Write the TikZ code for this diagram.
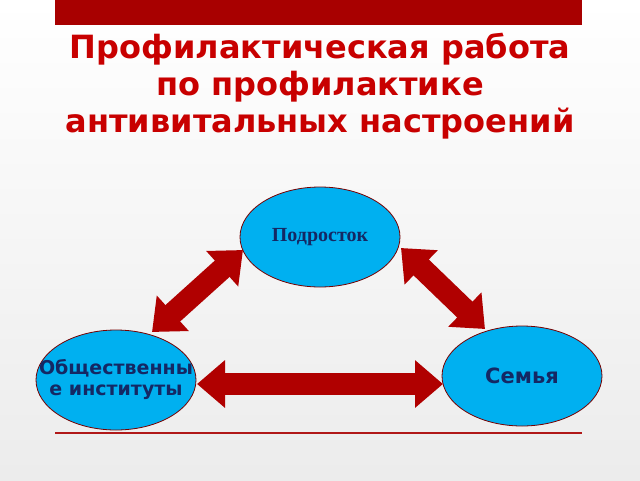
\documentclass[tikz,border=0pt]{standalone}
\usepackage{fontspec}
\setmainfont{Liberation Serif}
\setsansfont{DejaVu Sans}
\usetikzlibrary{arrows.meta,shapes.geometric}
\definecolor{barred}{RGB}{168,0,0}
\definecolor{titlered}{RGB}{200,0,0}
\definecolor{ellfill}{RGB}{0,176,240}
\definecolor{navy}{RGB}{20,40,100}
\definecolor{arr}{RGB}{176,0,0}
\tikzset{
  ell/.style={ellipse, draw=barred!70!black, line width=0.8pt, fill=ellfill, minimum width=160pt, minimum height=100pt, inner sep=0pt},
  lbl/.style={align=center, text=navy, inner sep=0pt},
  blk/.style={line width=22pt, draw=arr, {Triangle[length=28pt,width=46pt]}-{Triangle[length=28pt,width=46pt]}},
  title/.style={font=\sffamily\bfseries\fontsize{32}{37}\selectfont, text=titlered, align=center}
}
\begin{document}
\begin{tikzpicture}[x=1pt,y=-1pt]
\useasboundingbox (0,0) rectangle (640,480);
\fill[top color=white, bottom color=gray!15] (0,0) rectangle (640,480);
\fill[barred] (55,0) rectangle (582,25);
\node[title] (t) at (320,86) {Профилактическая работа\\по профилактике\\антивитальных настроений};
\node[ell] (p) at (320,237) {};
\node[ell] (s) at (522,376) {};
\node[ell] (o) at (116,380) {};
\node[lbl, font=\rmfamily\bfseries\fontsize{20}{22}\selectfont] (pl) at (p) {Подросток};
\node[lbl, font=\sffamily\bfseries\fontsize{21}{24}\selectfont] (sl) at (s) {Семья};
\node[lbl, font=\sffamily\bfseries\fontsize{19}{21}\selectfont] (ol) at (o) {Общественны\\е институты};
\coordinate (a1) at (152,332); \coordinate (a2) at (243,250);
\coordinate (b1) at (401,248); \coordinate (b2) at (485,329);
\coordinate (c1) at (197,384); \coordinate (c2) at (443,384);
\draw[blk] (a1) -- (a2);
\draw[blk] (b1) -- (b2);
\draw[blk] (c1) -- (c2);
\draw[barred!90, line width=1.5pt] (55,433) -- (582,433);
\end{tikzpicture}
\end{document}
